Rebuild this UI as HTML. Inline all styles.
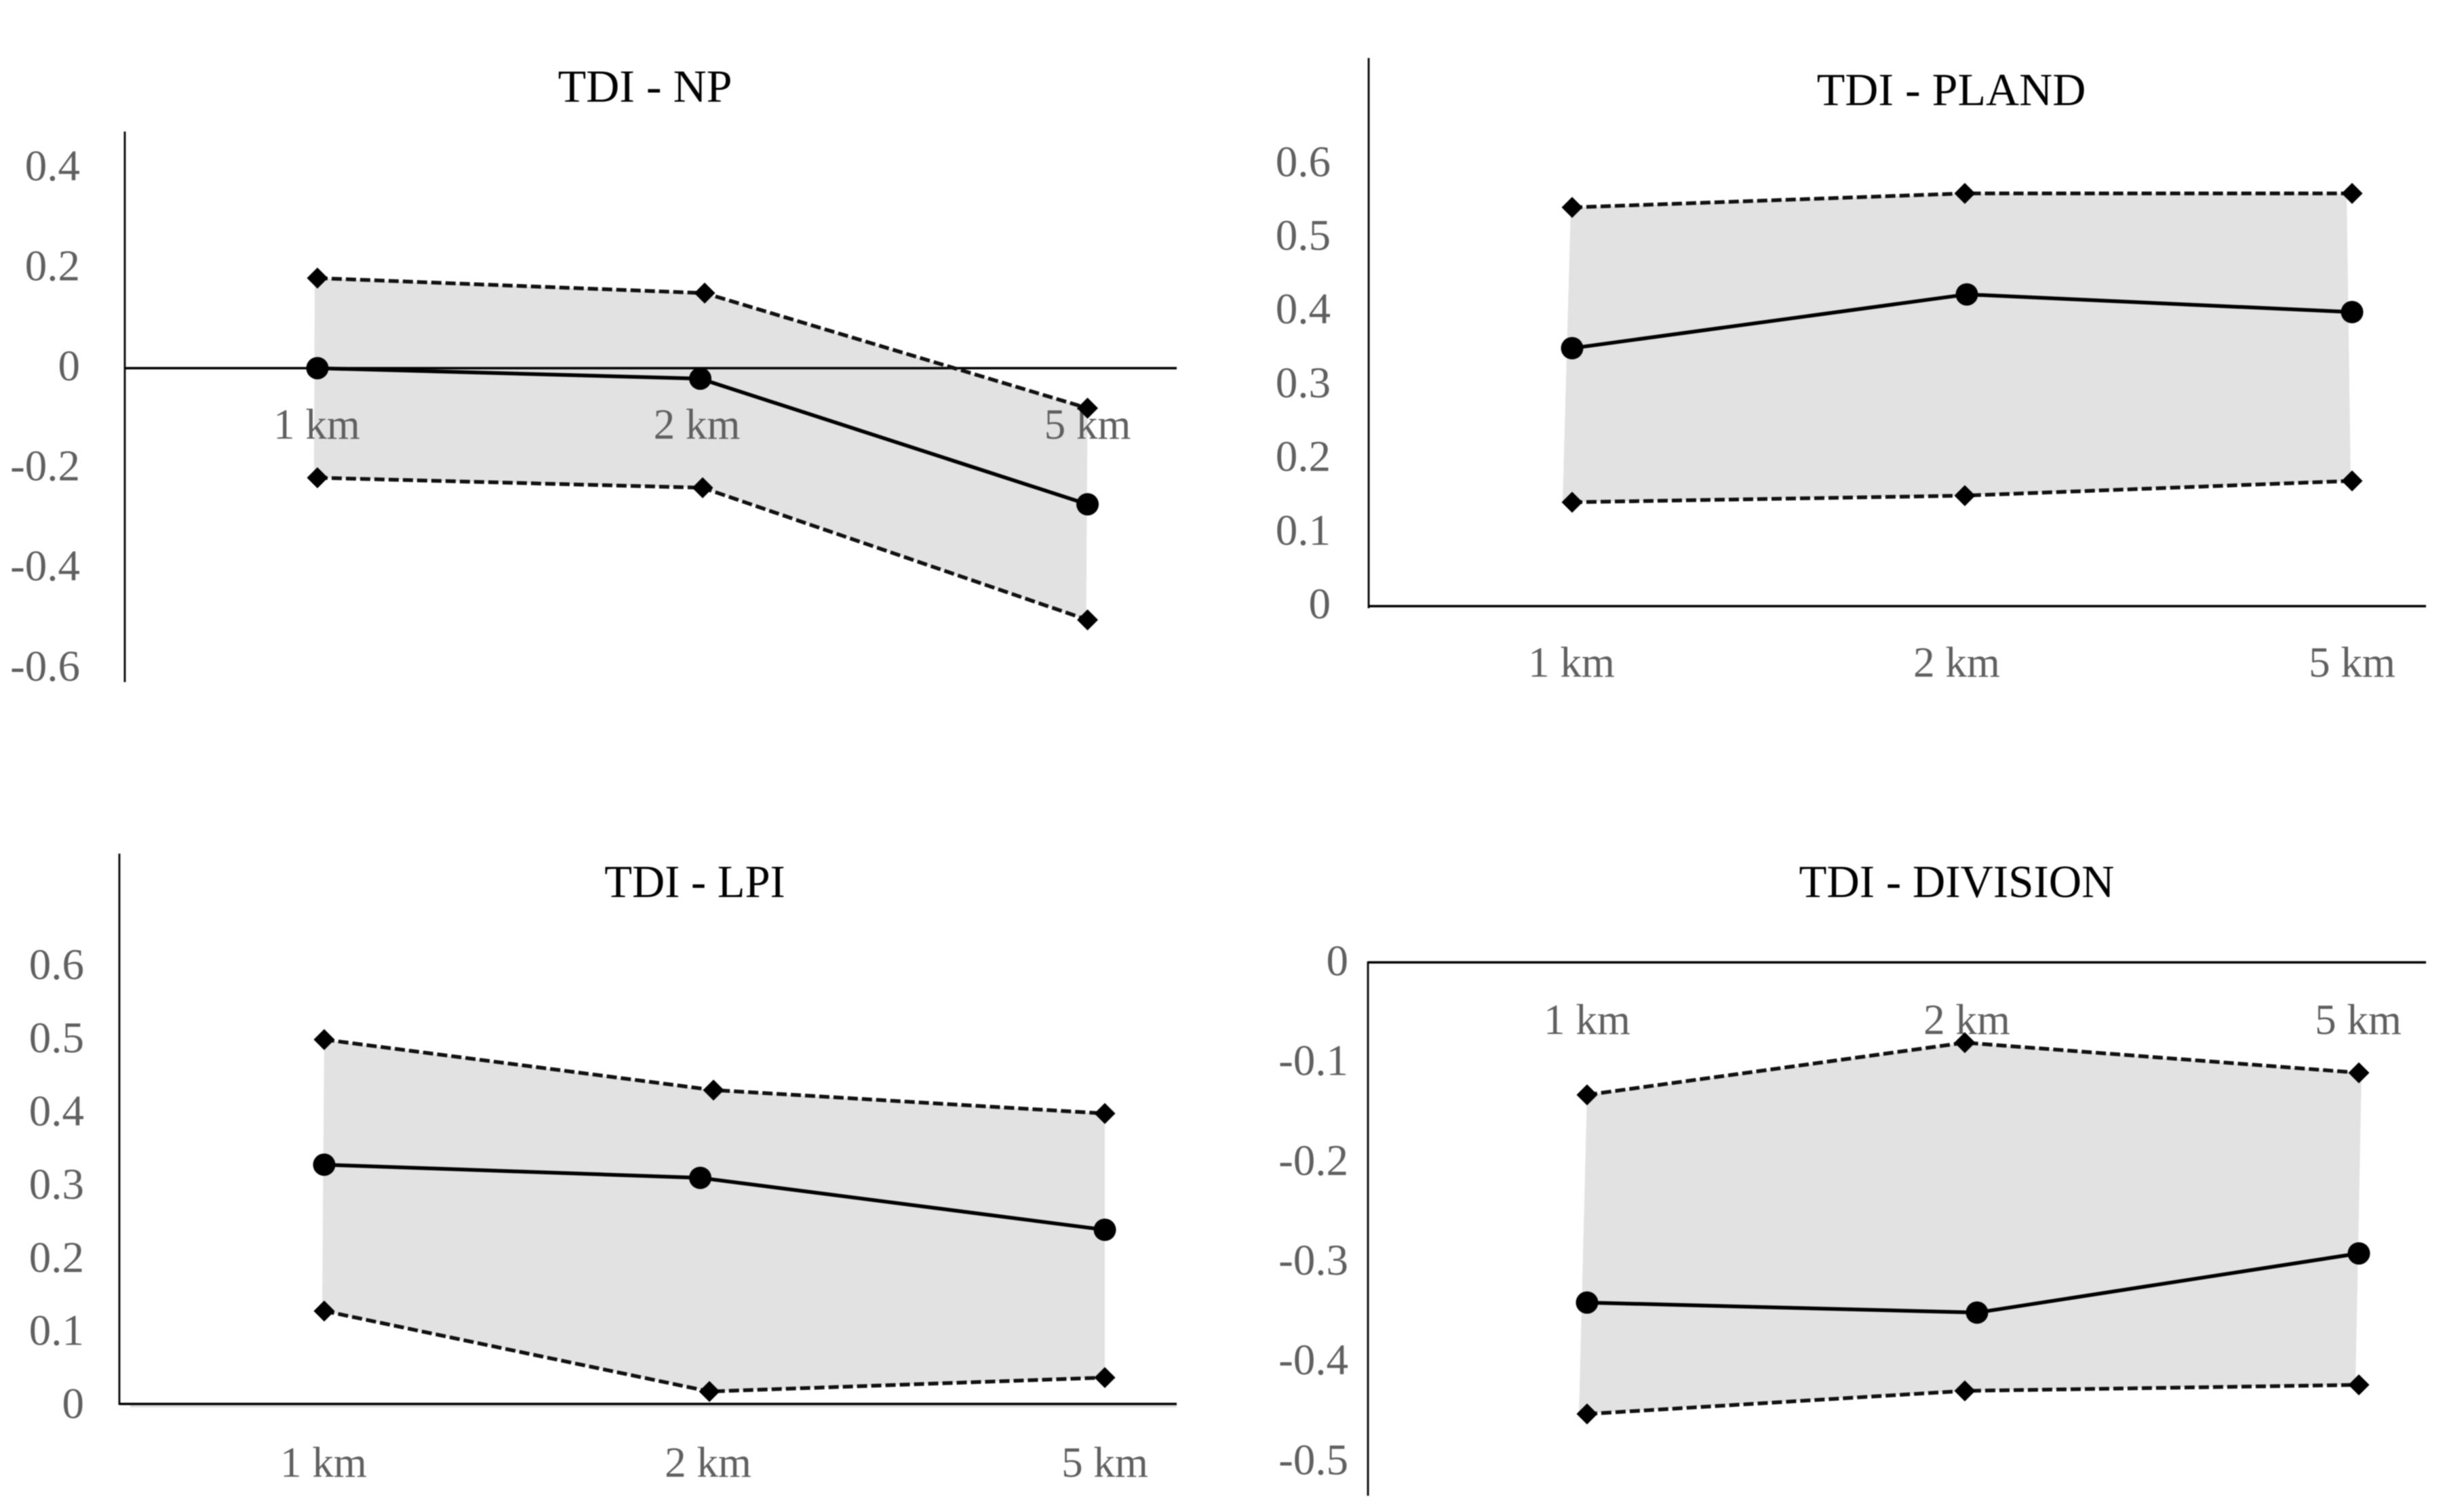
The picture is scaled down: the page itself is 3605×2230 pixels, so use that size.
<!DOCTYPE html>
<html lang="en">
<head>
<meta charset="utf-8">
<title>TDI landscape metric charts</title>
<style>
html,body{margin:0;padding:0;background:#fff;}
svg{display:block;filter:blur(0.7px);}
text{font-family:"Liberation Serif",serif;}
.title{font-size:68px;fill:#000;text-anchor:middle;}
.tick{font-size:65px;fill:#606060;text-anchor:end;}
.cat{font-size:63px;fill:#606060;text-anchor:middle;}
</style>
</head>
<body>
<svg id="chart" xmlns="http://www.w3.org/2000/svg" width="3605" height="2230" viewBox="0 0 3605 2230">
<rect width="3605" height="2230" fill="#fff"/>
<g id="np"><text class="title" x="951" y="150">TDI - NP</text></g>
<g id="pland"><text class="title" x="2877" y="155">TDI - PLAND</text></g>
<g id="lpi"><text class="title" transform="translate(1024.5 1323) scale(0.98 1)">TDI - LPI</text></g>
<g id="division"><text class="title" transform="translate(2885 1323) scale(0.985 1)">TDI - DIVISION</text></g>
</svg>
<script>
// Data
const categories = ['1 km', '2 km', '5 km'];

const npTicks = ['0.4', '0.2', '0', '-0.2', '-0.4', '-0.6'];
const npUpper = [0.18, 0.15, -0.08];
const npMean = [0, -0.021, -0.272];
const npLower = [-0.219, -0.239, -0.503];

const plandTicks = ['0.6', '0.5', '0.4', '0.3', '0.2', '0.1', '0'];
const plandUpper = [0.541, 0.56, 0.56];
const plandMean = [0.35, 0.423, 0.399];
const plandLower = [0.141, 0.15, 0.17];

const lpiTicks = ['0.6', '0.5', '0.4', '0.3', '0.2', '0.1', '0'];
const lpiUpper = [0.498, 0.429, 0.397];
const lpiMean = [0.327, 0.309, 0.238];
const lpiLower = [0.127, 0.017, 0.036];

const divisionTicks = ['0', '-0.1', '-0.2', '-0.3', '-0.4', '-0.5'];
const divisionUpper = [-0.132, -0.08, -0.11];
const divisionMean = [-0.339, -0.349, -0.29];
const divisionLower = [-0.45, -0.427, -0.421];

// Layout of each panel
const panels = [
  {id:'np', ticks:npTicks, upper:npUpper, mean:npMean, lower:npLower,
   zeroY:543, unit:738, axisX:184, axisTop:194, axisBottom:1006, axisRight:1735,
   left:468, mid:1032.5, right:1603.5, upMid:6.5, lowMid:3.5,
   tickRight:118, tickBase:18, tickUnit:738, catX:[-1, -5, 0], catBase:647,
   band:[-4, -5, 0, -2]},
  {id:'pland', ticks:plandTicks, upper:plandUpper, mean:plandMean, lower:plandLower,
   zeroY:894, unit:1087, axisX:2018, axisTop:85.5, axisBottom:897, axisRight:3577,
   left:2318, mid:2900, right:3468, upMid:-3, lowMid:-3,
   tickRight:1962, tickBase:18, tickUnit:1087, catX:[-1, -15, 0], catBase:998,
   band:[-2, -14, -8, -2]},
  {id:'lpi', ticks:lpiTicks, upper:lpiUpper, mean:lpiMean, lower:lpiLower,
   zeroY:2070.6, unit:1079, axisX:176, axisTop:1259, axisBottom:2072, axisRight:1735,
   left:478, mid:1032.5, right:1629, upMid:19.5, lowMid:13.5,
   tickRight:124, tickBase:21, tickUnit:1079, catX:[-1, 11.5, 0], catBase:2178,
   band:[0, -3, 0, 0], shadow:true},
  {id:'division', ticks:divisionTicks, upper:divisionUpper, mean:divisionMean, lower:divisionLower,
   zeroY:1419.4, unit:1480, axisX:2017, axisTop:1418, axisBottom:2206, axisRight:3577,
   left:2340, mid:2915, right:3478, upMid:-18, lowMid:-18,
   tickRight:1988, tickBase:19, tickUnit:1472, catX:[0, -15, -1], catBase:1525,
   band:[0, -12, 4, -5]}
];

const NS = 'http://www.w3.org/2000/svg';

function svgEl(tag, attrs, parent) {
  const el = document.createElementNS(NS, tag);
  for (const k in attrs) el.setAttribute(k, attrs[k]);
  parent.appendChild(el);
  return el;
}

function drawPanel(p) {
  const g = document.getElementById(p.id);
  const yOf = v => p.zeroY - p.unit * v;
  const tickY = v => p.zeroY - p.tickUnit * v;
  const xOf = (i, midShift) => i === 0 ? p.left : i === 2 ? p.right : p.mid + midShift;
  const pts = (vals, shift) => vals.map((v, i) => xOf(i, shift) + ',' + yOf(v)).join(' ');

  // band between upper and lower bound
  const n = categories.length - 1;
  const bandPts = [
    [xOf(0, 0) + p.band[0], yOf(p.upper[0])],
    [xOf(1, p.upMid), yOf(p.upper[1])],
    [xOf(n, 0) + p.band[2], yOf(p.upper[n])],
    [xOf(n, 0) + p.band[3], yOf(p.lower[n])],
    [xOf(1, p.lowMid), yOf(p.lower[1])],
    [xOf(0, 0) + p.band[1], yOf(p.lower[0])]
  ].map(a => a.join(',')).join(' ');
  const band = svgEl('polygon', {points: bandPts, fill: '#e2e2e2'}, g);
  
  

  // optional faint shadow under the axis
  if (p.shadow) {
    const sh = svgEl('line', {x1: p.axisX + 16, x2: p.axisRight, y1: yOf(0) + 3.5, y2: yOf(0) + 3.5, stroke: '#dcdcdc', 'stroke-width': 3}, g);
    
    
  }

  // category labels
  categories.forEach((c, i) => {
    const t = svgEl('text', {class: 'cat', x: xOf(i, 0) + p.catX[i], y: p.catBase}, g);
    t.textContent = c;
    
    
  });

  // tick labels
  p.ticks.forEach(label => {
    const t = svgEl('text', {class: 'tick', x: p.tickRight, y: tickY(parseFloat(label)) + p.tickBase}, g);
    t.textContent = label;
    
    
  });

  // axes
  const ya = svgEl('line', {x1: p.axisX, x2: p.axisX, y1: p.axisTop, y2: p.axisBottom, stroke: '#111', 'stroke-width': 3}, g);
  
  
  const xa = svgEl('line', {x1: p.axisX, x2: p.axisRight, y1: yOf(0), y2: yOf(0), stroke: '#000', 'stroke-width': 3.5}, g);
  
  

  // dashed bound lines
  const upLine = svgEl('polyline', {points: pts(p.upper, p.upMid), fill: 'none', stroke: '#111', 'stroke-width': 5.5, 'stroke-dasharray': '15 6'}, g);
  
  
  const lowLine = svgEl('polyline', {points: pts(p.lower, p.lowMid), fill: 'none', stroke: '#111', 'stroke-width': 5.5, 'stroke-dasharray': '15 6'}, g);
  
  

  // solid mean line
  const meanLine = svgEl('polyline', {points: pts(p.mean, 0), fill: 'none', stroke: '#000', 'stroke-width': 5.5}, g);
  
  

  // markers
  const diamond = (v, i, shift, name) => {
    const x = xOf(i, shift), y = yOf(v), r = 15.5;
    const d = svgEl('polygon', {points: [x - r, y, x, y - r, x + r, y, x, y + r].join(' '), fill: '#000'}, g);
    
    
  };
  p.upper.forEach((v, i) => diamond(v, i, p.upMid, 'upper-bound-point'));
  p.lower.forEach((v, i) => diamond(v, i, p.lowMid, 'lower-bound-point'));
  p.mean.forEach((v, i) => {
    const c = svgEl('circle', {cx: xOf(i, 0), cy: yOf(v), r: 16.5, fill: '#000'}, g);
    
    
  });
}

panels.forEach(drawPanel);
</script>
</body>
</html>
